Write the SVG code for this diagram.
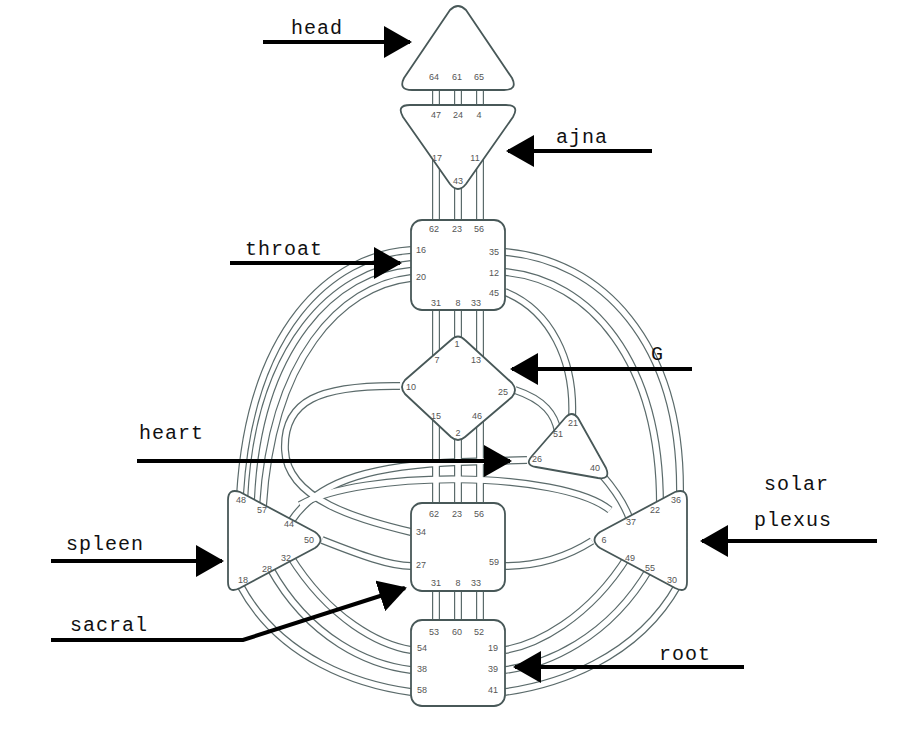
<svg xmlns="http://www.w3.org/2000/svg" xmlns:xlink="http://www.w3.org/1999/xlink" width="924" height="733" viewBox="0 0 924 733">
<style>
.o{fill:none;stroke:#5b6b6b;stroke-width:8}
.i{fill:none;stroke:#fff;stroke-width:5.6}
.n{fill:#fff;stroke:#485858;stroke-width:1.8;stroke-linejoin:round}
.g{font-family:"Liberation Sans",Arial,sans-serif;font-size:9px;fill:#555;text-anchor:middle}
.l{font-family:"Liberation Mono","Courier New",monospace;font-size:20px;fill:#111;letter-spacing:1px}
.a{fill:none;stroke:#000;stroke-width:4}
</style>
<defs>
<marker id="ah" markerUnits="userSpaceOnUse" markerWidth="30" markerHeight="32" refX="26" refY="16" orient="auto"><path d="M0,0 L28,16 L0,32 Z" fill="#000"/></marker>
<path id="v1" d="M436,60 V690"/>
<path id="v2" d="M458,60 V690"/>
<path id="v3" d="M480,60 V690"/>
<path id="c1" d="M411,250 C 330,255 250,330 240,495"/>
<path id="c2" d="M411,264 C 335,270 258,345 251,500"/>
<path id="c3" d="M411,278 C 340,286 272,360 263,506"/>
<path id="c4" d="M505,252 C 600,260 682,340 680,495"/>
<path id="c5" d="M505,272 C 590,280 660,360 660,505"/>
<path id="c6" d="M505,292 C 550,310 575,360 572,418"/>
<path id="c7" d="M400,386 C 320,385 283,400 285,450 C 287,500 360,520 411,532"/>
<path id="c8" d="M527,460 L 460,462 C 380,465 320,478 292,520"/>
<path id="c9" d="M515,390 C 545,400 555,415 558,432"/>
<path id="c10" d="M602,475 C 615,490 625,505 630,520"/>
<path id="c11" d="M322,540 C 360,555 390,566 411,566"/>
<path id="c12" d="M505,566 C 540,566 570,555 592,541"/>
<path id="c13" d="M290,556 C 330,620 380,645 411,650"/>
<path id="c14" d="M270,568 C 310,640 370,665 411,670"/>
<path id="c15" d="M240,585 C 280,660 360,685 411,692"/>
<path id="c16" d="M628,556 C 588,620 535,645 505,650"/>
<path id="c17" d="M650,568 C 608,640 545,665 505,670"/>
<path id="c18" d="M678,585 C 636,660 555,685 505,692"/>
<path id="c19" d="M300,505 C 360,470 560,470 610,510"/>
</defs>
<g id="connectors">
<g class="o"><use xlink:href="#v1"/><use xlink:href="#v2"/><use xlink:href="#v3"/><use xlink:href="#c1"/><use xlink:href="#c2"/><use xlink:href="#c3"/><use xlink:href="#c4"/><use xlink:href="#c5"/><use xlink:href="#c6"/><use xlink:href="#c7"/><use xlink:href="#c8"/><use xlink:href="#c9"/><use xlink:href="#c10"/><use xlink:href="#c11"/><use xlink:href="#c12"/><use xlink:href="#c13"/><use xlink:href="#c14"/><use xlink:href="#c15"/><use xlink:href="#c16"/><use xlink:href="#c17"/><use xlink:href="#c18"/><use xlink:href="#c19"/></g>
<g class="i"><use xlink:href="#v1"/><use xlink:href="#v2"/><use xlink:href="#v3"/><use xlink:href="#c1"/><use xlink:href="#c2"/><use xlink:href="#c3"/><use xlink:href="#c4"/><use xlink:href="#c5"/><use xlink:href="#c6"/><use xlink:href="#c7"/><use xlink:href="#c8"/><use xlink:href="#c9"/><use xlink:href="#c10"/><use xlink:href="#c11"/><use xlink:href="#c12"/><use xlink:href="#c13"/><use xlink:href="#c14"/><use xlink:href="#c15"/><use xlink:href="#c16"/><use xlink:href="#c17"/><use xlink:href="#c18"/><use xlink:href="#c19"/></g>
</g>
<g id="head"><path class="n" d="M450,10 Q458,2 466,10 L512,78 Q518,90 504,90 L412,90 Q398,90 404,78 Z"/>
<text class="g" x="434" y="80">64</text><text class="g" x="457" y="80">61</text><text class="g" x="479" y="80">65</text></g>
<g id="ajna"><path class="n" d="M410,105 L506,105 Q520,105 513,117 L466,184 Q458,194 450,184 L403,117 Q396,105 410,105 Z"/>
<text class="g" x="436" y="118">47</text><text class="g" x="458" y="118">24</text><text class="g" x="479" y="118">4</text>
<text class="g" x="437" y="161">17</text><text class="g" x="475" y="161">11</text><text class="g" x="458" y="184">43</text></g>
<g id="throat"><rect class="n" x="411" y="220" width="94" height="90" rx="11"/>
<text class="g" x="434" y="232">62</text><text class="g" x="457" y="232">23</text><text class="g" x="479" y="232">56</text>
<text class="g" x="421" y="253">16</text><text class="g" x="421" y="280">20</text>
<text class="g" x="494" y="255">35</text><text class="g" x="494" y="276">12</text><text class="g" x="494" y="296">45</text>
<text class="g" x="436" y="306">31</text><text class="g" x="458" y="306">8</text><text class="g" x="476" y="306">33</text></g>
<g id="G"><path class="n" d="M451,340 Q458,333 465,340 L512,383 Q518,390 512,397 L465,437 Q458,443 451,437 L405,394 Q399,387 405,380 Z"/>
<text class="g" x="457" y="347">1</text><text class="g" x="437" y="363">7</text><text class="g" x="476" y="363">13</text>
<text class="g" x="411" y="390">10</text><text class="g" x="503" y="395">25</text>
<text class="g" x="436" y="419">15</text><text class="g" x="477" y="419">46</text><text class="g" x="458" y="436">2</text></g>
<g id="heart"><path class="n" d="M565,418 Q572,410 578,418 L606,468 Q611,480 598,478 L536,467 Q524,465 532,456 Z"/>
<text class="g" x="573" y="426">21</text><text class="g" x="558" y="437">51</text><text class="g" x="537" y="462">26</text><text class="g" x="595" y="471">40</text></g>
<g id="spleen"><path class="n" d="M228,500 Q228,488 240,492 L315,532 Q326,540 315,548 L240,588 Q228,594 228,582 Z"/>
<text class="g" x="241" y="503">48</text><text class="g" x="262" y="513">57</text><text class="g" x="289" y="527">44</text><text class="g" x="309" y="543">50</text>
<text class="g" x="286" y="561">32</text><text class="g" x="267" y="572">28</text><text class="g" x="243" y="583">18</text></g>
<g id="sacral"><rect class="n" x="411" y="503" width="94" height="88" rx="11"/>
<text class="g" x="434" y="517">62</text><text class="g" x="457" y="517">23</text><text class="g" x="479" y="517">56</text>
<text class="g" x="421" y="535">34</text><text class="g" x="421" y="568">27</text><text class="g" x="494" y="565">59</text>
<text class="g" x="436" y="586">31</text><text class="g" x="458" y="586">8</text><text class="g" x="476" y="586">33</text></g>
<g id="solar-plexus"><path class="n" d="M687,500 Q687,488 675,492 L600,532 Q589,540 600,548 L675,588 Q687,594 687,582 Z"/>
<text class="g" x="676" y="503">36</text><text class="g" x="655" y="513">22</text><text class="g" x="631" y="525">37</text><text class="g" x="604" y="543">6</text>
<text class="g" x="630" y="561">49</text><text class="g" x="650" y="571">55</text><text class="g" x="672" y="583">30</text></g>
<g id="root"><rect class="n" x="411" y="620" width="94" height="86" rx="11"/>
<text class="g" x="434" y="635">53</text><text class="g" x="457" y="635">60</text><text class="g" x="479" y="635">52</text>
<text class="g" x="422" y="651">54</text><text class="g" x="422" y="672">38</text><text class="g" x="422" y="693">58</text>
<text class="g" x="493" y="651">19</text><text class="g" x="493" y="672">39</text><text class="g" x="493" y="693">41</text></g>
<g id="labels">
<text class="l" x="291" y="34">head</text><path class="a" marker-end="url(#ah)" d="M263,42 H410"/>
<text class="l" x="556" y="143">ajna</text><path class="a" marker-end="url(#ah)" d="M652,151 H508"/>
<text class="l" x="245" y="255">throat</text><path class="a" marker-end="url(#ah)" d="M230,263 H400"/>
<text class="l" x="651" y="360">G</text><path class="a" marker-end="url(#ah)" d="M692,369 H512"/>
<text class="l" x="139" y="439">heart</text><path class="a" marker-end="url(#ah)" d="M137,461 H510"/>
<text class="l" x="66" y="550">spleen</text><path class="a" marker-end="url(#ah)" d="M51,561 H222"/>
<text class="l" x="70" y="631">sacral</text><path class="a" marker-end="url(#ah)" d="M51,640 H243 L405,588"/>
<text class="l" x="764" y="490">solar</text><text class="l" x="754" y="526">plexus</text><path class="a" marker-end="url(#ah)" d="M877,541 H702"/>
<text class="l" x="659" y="660">root</text><path class="a" marker-end="url(#ah)" d="M744,667 H515"/>
</g>
</svg>
